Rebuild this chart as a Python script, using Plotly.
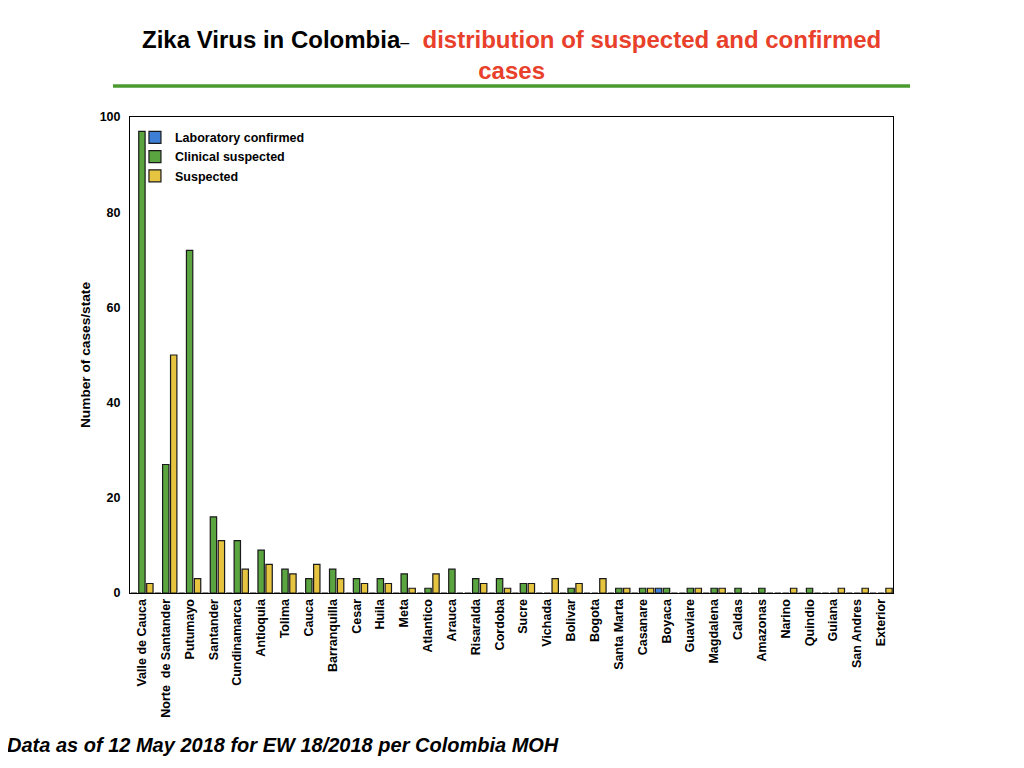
import plotly.graph_objects as go

states = ["Valle de Cauca", "Norte  de Santander", "Putumayo", "Santander", "Cundinamarca",
          "Antioquia", "Tolima", "Cauca", "Barranquilla", "Cesar", "Huila", "Meta",
          "Atlantico", "Arauca", "Risaralda", "Cordoba", "Sucre", "Vichada", "Bolivar",
          "Bogota", "Santa Marta", "Casanare", "Boyaca", "Guaviare", "Magdalena",
          "Caldas", "Amazonas", "Narino", "Quindio", "Guiana", "San Andres", "Exterior"]
lab_confirmed = [0, 0, 0, 0, 0, 0, 0, 0, 0, 0, 0, 0, 0, 0, 0, 0,
                 0, 0, 0, 0, 0, 0, 1, 0, 0, 0, 0, 0, 0, 0, 0, 0]
clinical_suspected = [97, 27, 72, 16, 11, 9, 5, 3, 5, 3, 3, 4, 1, 5, 3, 3,
                      2, 0, 1, 0, 1, 1, 1, 1, 1, 1, 1, 0, 1, 0, 0, 0]
suspected = [2, 50, 3, 11, 5, 6, 4, 6, 3, 2, 2, 1, 4, 0, 2, 1,
             2, 3, 2, 3, 1, 1, 0, 1, 1, 0, 0, 1, 0, 1, 1, 1]

FONT = "Liberation Sans, Arial, Helvetica, sans-serif"

fig = go.Figure()
series = [("Laboratory confirmed", lab_confirmed, "#3d7fd6"),
          ("Clinical suspected", clinical_suspected, "#5aa540"),
          ("Suspected", suspected, "#e6c440")]
for name, vals, col in series:
    fig.add_trace(go.Bar(
        x=states, y=vals, name=name,
        marker=dict(color=col, line=dict(color="#1a1a1a", width=1.2)),
    ))

# page body has an 8px margin, so the figure is shifted by that much
fig.update_layout(
    width=1016, height=760,
    margin=dict(l=122, r=131, t=109, b=175),
    paper_bgcolor="white", plot_bgcolor="white",
    barmode="group", bargap=0.0, bargroupgap=0.2,
    font=dict(family=FONT, color="black"),
    showlegend=True,
    legend=dict(x=0.0065, y=0.988, xanchor="left", yanchor="top",
                bgcolor="rgba(0,0,0,0)", tracegroupgap=0, itemwidth=30,
                font=dict(size=12.5, weight="bold")),
)
fig.update_xaxes(showline=True, linecolor="black", linewidth=1, mirror=True,
                 showgrid=False, ticks="", tickangle=-90,
                 tickfont=dict(size=12.5, weight="bold"))
fig.update_yaxes(range=[0, 100], dtick=20, showline=True, linecolor="black",
                 linewidth=1, mirror=True, showgrid=False, zeroline=False,
                 ticks="", ticklabelstandoff=6, tickfont=dict(size=12.5, weight="bold"),
                 title=dict(text="Number of cases/state", standoff=5,
                            font=dict(size=13.7, weight="bold")))

# title
fig.add_annotation(
    xref="paper", yref="paper", x=0.5, y=1.1305, xanchor="center", yanchor="middle",
    showarrow=False, align="center",
    text="<b>Zika Virus in Colombia</b><span style='font-size:16px'>–</span>  "
         "<b><span style='color:#e8402a'>distribution of suspected and confirmed<br>cases</span></b>",
    font=dict(size=24, family=FONT, color="black"),
)
fig.add_shape(type="line", xref="paper", yref="paper", x0=-0.0223, x1=1.0223,
              y0=1.0653, y1=1.0653, line=dict(color="#4a9a30", width=3.5))

# footer
fig.add_annotation(
    xref="paper", yref="paper", x=-0.1638, y=-0.32, xanchor="left", yanchor="middle",
    showarrow=False,
    text="<b><i>Data as of 12 May 2018 for EW 18/2018 per Colombia MOH</i></b>",
    font=dict(size=20, family=FONT, color="black"),
)

fig.write_html("out.html")
